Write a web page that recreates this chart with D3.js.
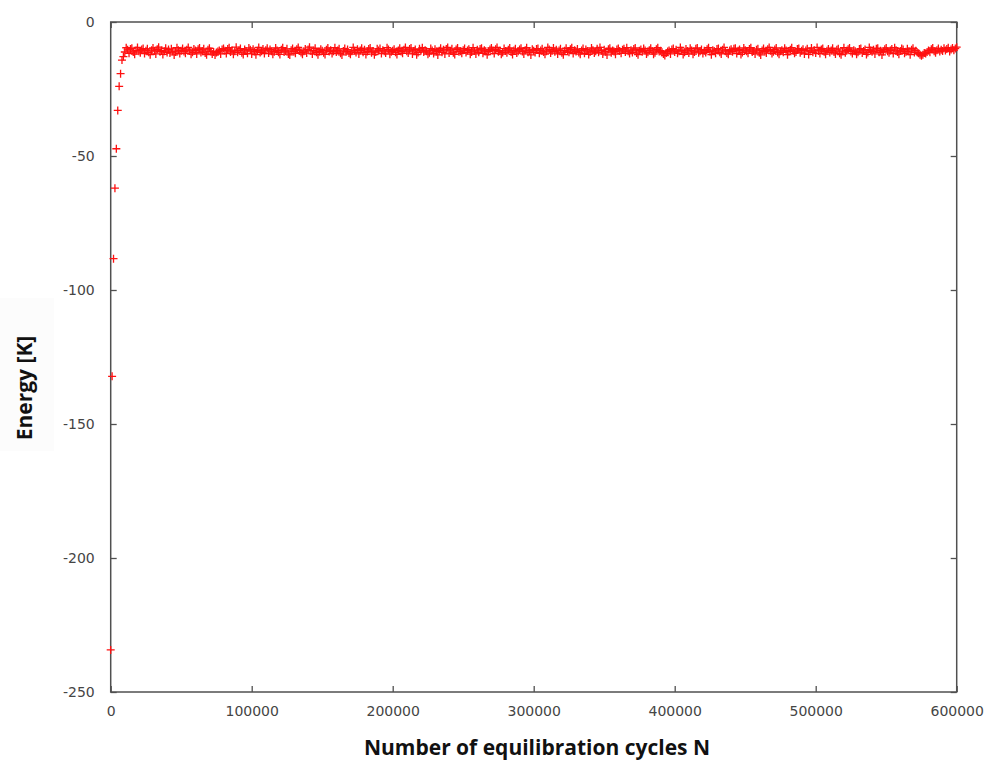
<!DOCTYPE html>
<html>
<head>
<meta charset="utf-8">
<script src="https://cdn.jsdelivr.net/npm/d3@7"></script>
<style>
  html, body { margin: 0; padding: 0; background: #fff; }
  svg { display: block; }
</style>
</head>
<body>
<svg id="chart" width="986" height="760"></svg>
<script>
// Monte Carlo equilibration run: energy sampled every 1000 cycles.
const sampleInterval = 1000;

// First samples (N = 0 ... 10000): relaxation from the initial configuration.
const transientEnergy = [-234.3, -132.2, -88.3, -62.0, -47.3, -33.0, -24.0, -19.3, -14.2, -12.9, -11.2];

// Remaining samples (N = 11000 ... 600000): fluctuations around equilibrium.
const plateauEnergy = [
  -9.6, -10.4, -11.7, -10.1, -9.8, -11.2, -12.0, -10.6, -9.5, -10.9,
  -11.5, -10.3, -9.9, -11.8, -10.7, -10.0, -11.3, -12.2, -10.5, -9.7,
  -10.8, -11.9, -10.2, -9.4, -11.1, -10.6, -12.1, -10.9, -9.8, -11.4,
  -10.3, -11.6, -10.0, -10.9, -12.3, -11.2, -9.6, -10.5, -11.8, -10.7,
  -9.9, -11.0, -11.7, -10.4, -9.5, -10.8, -12.0, -11.3, -10.1, -10.6,
  -11.9, -10.2, -9.7, -11.4, -10.9, -10.0, -11.6, -12.2, -10.4, -9.8,
  -11.0, -11.9, -11.2, -12.3, -11.4, -11.0, -10.6, -11.9, -10.3, -9.9,
  -10.7, -11.8, -10.1, -9.6, -11.2, -10.5, -12.0, -10.9, -9.4, -11.3,
  -10.6, -9.9, -11.5, -12.1, -10.3, -10.8, -11.7, -9.7, -10.4, -11.9,
  -10.2, -11.0, -12.2, -10.7, -9.5, -11.4, -10.9, -10.1, -11.8, -10.5,
  -9.8, -11.6, -10.3, -10.9, -12.0, -11.1, -9.7, -10.6, -11.3, -12.1,
  -10.4, -9.6, -11.2, -10.8, -10.0, -11.9, -12.3, -10.5, -9.9, -11.0,
  -11.7, -10.2, -9.5, -10.7, -11.4, -12.0, -10.9, -10.1, -11.6, -10.3,
  -9.4, -10.8, -11.9, -10.6, -9.8, -11.3, -12.2, -11.0, -10.2, -10.7,
  -11.5, -12.1, -10.4, -9.7, -11.0, -10.5, -11.8, -10.9, -9.6, -11.2,
  -10.6, -10.0, -11.7, -12.3, -10.8, -9.9, -11.1, -10.3, -11.6, -12.0,
  -10.9, -9.5, -10.7, -11.4, -10.2, -11.9, -10.6, -9.8, -11.3, -10.4,
  -12.1, -11.0, -10.1, -9.7, -11.5, -10.8, -12.2, -11.2, -10.0, -10.6,
  -9.9, -11.8, -10.5, -10.9, -11.6, -9.6, -10.3, -12.0, -11.1, -10.7,
  -10.2, -11.3, -12.1, -10.6, -9.8, -11.0, -11.7, -10.4, -9.5, -10.9,
  -11.6, -10.1, -9.7, -11.9, -10.8, -10.3, -12.2, -11.4, -10.0, -10.7,
  -9.6, -11.2, -10.5, -10.9, -12.0, -11.5, -9.9, -10.6, -11.8, -10.2,
  -11.0, -12.3, -10.7, -9.8, -11.3, -10.4, -11.9, -10.1, -9.5, -11.6,
  -10.8, -10.0, -11.5, -12.1, -10.3, -9.7, -11.1, -10.9, -11.7, -10.5,
  -9.9, -11.4, -10.6, -10.2, -12.0, -11.2, -9.6, -10.8, -11.9, -10.4,
  -11.3, -10.1, -9.8, -11.7, -10.5, -10.9, -12.2, -11.0, -10.3, -9.7,
  -10.6, -11.8, -10.2, -9.5, -11.1, -10.7, -12.0, -11.4, -9.9, -10.8,
  -11.5, -10.4, -9.7, -11.2, -12.1, -10.6, -10.0, -11.6, -10.9, -10.3,
  -9.8, -11.0, -11.9, -10.5, -9.6, -11.3, -10.8, -12.3, -10.2, -10.7,
  -11.4, -10.1, -9.9, -11.7, -10.6, -10.0, -11.2, -12.0, -10.9, -9.5,
  -10.3, -11.6, -10.8, -9.7, -11.1, -10.4, -11.9, -10.6, -10.0, -11.5,
  -12.2, -10.7, -9.8, -10.9, -11.3, -10.2, -9.6, -11.8, -10.5, -11.0,
  -10.1, -11.4, -12.0, -10.6, -9.9, -11.7, -10.3, -10.8, -12.1, -11.2,
  -9.7, -10.5, -11.6, -10.9, -10.0, -11.3, -9.5, -10.7, -11.9, -10.4,
  -11.1, -12.3, -10.2, -9.8, -11.5, -10.6, -11.0, -12.0, -10.3, -9.9,
  -10.8, -11.7, -10.4, -10.0, -11.2, -9.6, -10.9, -11.8, -10.5, -11.4,
  -10.1, -9.7, -11.6, -12.2, -10.7, -10.3, -11.1, -9.9, -10.6, -11.9,
  -11.3, -10.5, -9.8, -10.8, -12.0, -11.5, -10.2, -9.6, -11.0, -10.7,
  -11.3, -11.9, -12.5, -11.6, -11.0, -10.6, -11.9, -10.3, -9.9, -11.2,
  -10.4, -11.7, -10.9, -9.5, -10.7, -12.1, -11.3, -10.1, -10.8, -11.6,
  -9.8, -10.6, -12.0, -11.2, -10.0, -9.7, -11.5, -10.9, -10.3, -11.8,
  -10.7, -11.4, -10.2, -9.6, -11.0, -12.2, -10.5, -10.8, -11.7, -10.1,
  -9.9, -11.3, -11.9, -10.4, -9.5, -10.9, -11.6, -12.0, -10.6, -10.2,
  -11.1, -10.0, -9.8, -11.8, -10.7, -10.3, -12.1, -11.4, -9.7, -10.5,
  -10.9, -11.7, -10.1, -9.6, -11.2, -10.8, -11.9, -10.4, -10.0, -11.5,
  -12.3, -10.6, -9.9, -11.0, -11.6, -10.2, -9.5, -10.7, -11.8, -11.1,
  -10.3, -9.7, -11.4, -12.0, -10.9, -10.5, -11.3, -9.8, -10.6, -12.2,
  -11.0, -10.4, -9.6, -10.8, -11.7, -11.2, -10.1, -9.9, -11.5, -10.7,
  -10.2, -11.9, -10.6, -10.0, -12.1, -10.9, -9.7, -11.3, -10.5, -11.6,
  -9.5, -10.8, -11.8, -10.3, -9.9, -11.1, -12.0, -10.7, -10.1, -11.4,
  -10.6, -9.8, -11.2, -11.9, -10.4, -10.0, -11.7, -12.2, -10.9, -9.6,
  -11.5, -10.7, -10.2, -9.7, -11.0, -11.8, -10.5, -10.9, -12.0, -11.3,
  -10.1, -9.9, -11.6, -10.8, -10.3, -12.1, -11.4, -9.5, -10.6, -11.1,
  -10.4, -11.9, -10.0, -9.8, -11.3, -10.7, -12.3, -11.0, -10.2, -9.7,
  -10.9, -11.5, -10.6, -10.1, -11.8, -9.6, -10.5, -11.2, -12.0, -10.8,
  -9.9, -10.3, -11.7, -11.1, -10.0, -10.9, -12.2, -10.4, -9.8, -11.4,
  -10.7, -11.3, -11.7, -12.2, -12.6, -12.2, -11.6, -11.8, -11.2, -10.6,
  -11.3, -10.2, -9.7, -10.9, -11.5, -10.5, -9.9, -11.0, -10.4, -10.8,
  -9.8, -10.6, -10.1, -9.6, -11.0, -10.3, -9.7, -10.5, -9.9, -9.4
];

const xTickValues = [0, 100000, 200000, 300000, 400000, 500000, 600000];
const yTickValues = [0, -50, -100, -150, -200, -250];

const xTitle = "Number of equilibration cycles N";
const yTitle = "Energy [K]";

// Combine into (N, E) samples
const energy = transientEnergy.concat(plateauEnergy);
const samples = energy.map((e, i) => ({ n: i * sampleInterval, e }));

const svg = d3.select("#chart");
const W = 986, H = 760;
const plot = { left: 110.7, right: 956.7, top: 22, bottom: 692 };

const x = d3.scaleLinear().domain([0, 600000]).range([plot.left, plot.right]);
const y = d3.scaleLinear().domain([-250, 0]).range([plot.bottom, plot.top]);

svg.append("rect").attr("width", W).attr("height", H).attr("fill", "#fff");

// Faint panel behind the vertical title
svg.append("rect")
  .attr("x", 0).attr("y", 298).attr("width", 54).attr("height", 153)
  .attr("fill", "#fcfcfc");

const axisColor = "#505050";
const labelColor = "#454545";
const tickLen = 6;
const plainNumber = d => String(d);

function styleAxis(g) {
  g.select(".domain").remove();
  g.selectAll(".tick line").attr("stroke", axisColor).attr("stroke-width", 1.3);
  g.selectAll(".tick text")
    .attr("fill", labelColor)
    .style("font-family", "'DejaVu Sans', sans-serif")
    .style("font-size", "14px");
}

// Bottom axis (ticks pointing into the plot)
svg.append("g")
  .attr("transform", `translate(0,${plot.bottom})`)
  .call(d3.axisBottom(x).tickValues(xTickValues).tickFormat(plainNumber)
    .tickSizeInner(-tickLen).tickSizeOuter(0).tickPadding(14))
  .call(styleAxis);

// Top mirror ticks
svg.append("g")
  .attr("transform", `translate(0,${plot.top})`)
  .call(d3.axisTop(x).tickValues(xTickValues).tickFormat("")
    .tickSizeInner(-tickLen).tickSizeOuter(0))
  .call(styleAxis);

// Left axis
svg.append("g")
  .attr("transform", `translate(${plot.left},0)`)
  .call(d3.axisLeft(y).tickValues(yTickValues).tickFormat(plainNumber)
    .tickSizeInner(-tickLen).tickSizeOuter(0).tickPadding(16))
  .call(styleAxis);

// Right mirror ticks
svg.append("g")
  .attr("transform", `translate(${plot.right},0)`)
  .call(d3.axisRight(y).tickValues(yTickValues).tickFormat("")
    .tickSizeInner(-tickLen).tickSizeOuter(0))
  .call(styleAxis);

// Plot frame
svg.append("rect")
  .attr("x", plot.left).attr("y", plot.top)
  .attr("width", plot.right - plot.left).attr("height", plot.bottom - plot.top)
  .attr("fill", "none").attr("stroke", axisColor).attr("stroke-width", 1.5);

// Data points as "+" markers
const cross = "M-4,0H4M0,-4V4";
svg.append("g")
  .selectAll("path")
  .data(samples)
  .join("path")
  .attr("transform", d => `translate(${x(d.n)},${y(d.e)})`)
  .attr("d", cross)
  .attr("stroke", "#ff1010")
  .attr("stroke-width", 1.3)
  .attr("fill", "none");

// Axis titles
svg.append("text")
  .attr("x", 537).attr("y", 755)
  .attr("text-anchor", "middle")
  .style("font-family", "'Open Sans', sans-serif")
  .style("font-weight", 700)
  .style("font-size", "21px")
  .attr("fill", "#111")
  .text(xTitle);

svg.append("text")
  .attr("transform", "translate(32,388) rotate(-90)")
  .attr("text-anchor", "middle")
  .style("font-family", "'Open Sans', sans-serif")
  .style("font-weight", 700)
  .style("font-size", "21px")
  .attr("fill", "#111")
  .text(yTitle);
</script>
</body>
</html>
